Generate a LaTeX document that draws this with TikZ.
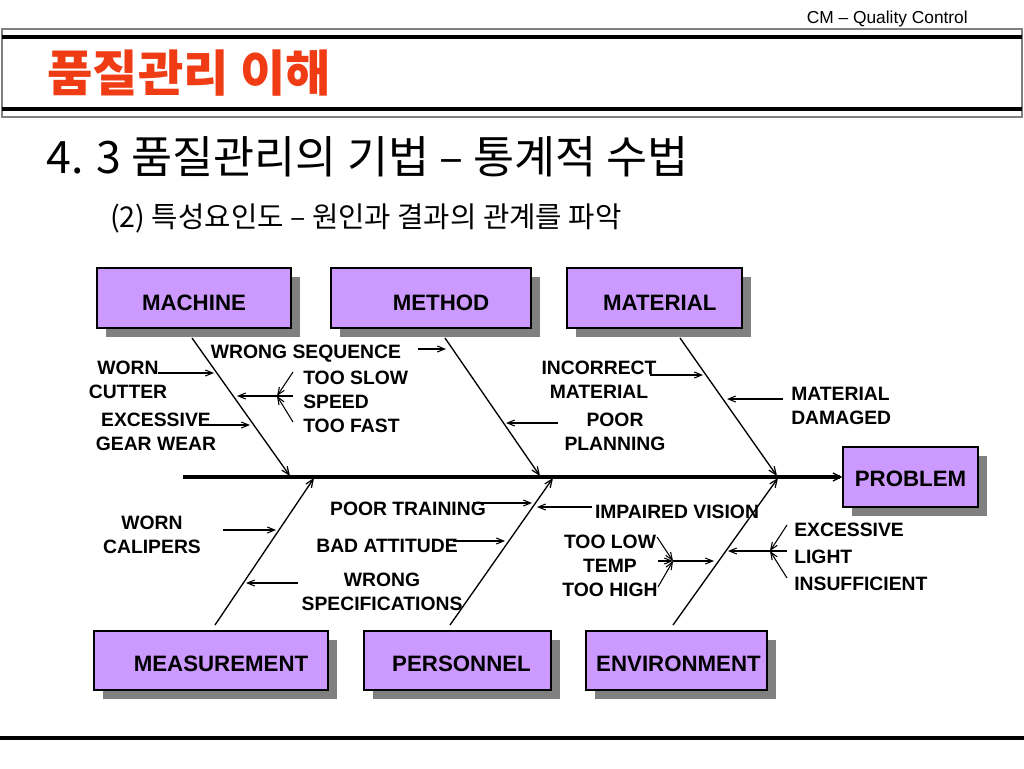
\documentclass[tikz,border=0pt]{standalone}
\usepackage{fontspec}
\setmainfont{Liberation Sans}
\newfontfamily\kr{Noto Sans CJK KR}
\usetikzlibrary{arrows.meta,shadows}
\definecolor{boxfill}{HTML}{CC99FF}
\definecolor{shadowgray}{HTML}{808080}
\definecolor{titlered}{HTML}{F03C14}
\begin{document}
\begin{tikzpicture}[x=0.75pt,y=-0.75pt,
  box/.style={draw=black, line width=0.9pt, fill=boxfill, inner sep=0pt,
    font=\bfseries\fontsize{16.7}{20}\selectfont, text depth=0pt,
    drop shadow={shadow xshift=6.5pt, shadow yshift=-6.5pt, fill=shadowgray, opacity=1}},
  topbox/.style={box, minimum height=45pt, text height=18pt},
  botbox/.style={box, minimum height=44.25pt, text height=16pt},
  lbl/.style={font=\bfseries\fontsize{14.5}{18}\selectfont, inner sep=0pt, align=center},
  lbll/.style={lbl, align=left, anchor=west},
  bone/.style={line width=1pt, -{Straight Barb[length=6pt,width=5pt,line width=0.9pt]}},
  twig/.style={line width=0.8pt, -{Straight Barb[length=5.5pt,width=4.5pt,line width=0.8pt]}},
  spine/.style={line width=2.3pt, -{Straight Barb[length=6pt,width=6pt,line width=1pt]}}
]
\useasboundingbox (0,0) rectangle (1024,768);

% header and frame
\node[anchor=base east, font=\fontsize{13}{15}\selectfont, inner sep=0pt] (hdr) at (968,23) {CM – Quality Control};
\draw[gray, line width=0.8pt] (2,29) rectangle (1022,117);
\draw[line width=2.6pt] (2,37) -- (1022,37);
\draw[line width=2.6pt] (2,109) -- (1022,109);
\draw[line width=2.4pt] (0,738) -- (1024,738);

\node[anchor=west, text=titlered, font=\kr\bfseries\fontsize{37}{42}\selectfont, inner sep=0pt] (title) at (47,73) {품질관리 이해};
\node[anchor=west, font=\kr\fontsize{33.5}{38}\selectfont, inner sep=0pt] (sub) at (46,157) {4. 3 품질관리의 기법 – 통계적 수법};
\node[anchor=west, font=\kr\fontsize{21.5}{25}\selectfont, inner sep=0pt] (sub2) at (110,218) {(2) 특성요인도 – 원인과 결과의 관계를 파악};

% boxes
\node[topbox, minimum width=145.5pt] (machine) at (194,298) {MACHINE};
\node[topbox, minimum width=150pt] (method) at (431,298) {\hspace{15pt}METHOD};
\node[topbox, minimum width=131.25pt] (material) at (654.5,298) {\hspace{8pt}MATERIAL};
\node[box, minimum width=101.25pt, minimum height=45pt, text height=13.5pt] (problem) at (910.5,477) {PROBLEM};
\node[botbox, minimum width=175.5pt] (measurement) at (211,660.5) {\hspace{15pt}MEASUREMENT};
\node[botbox, minimum width=140.25pt] (personnel) at (457.5,660.5) {\hspace{6pt}PERSONNEL};
\node[botbox, minimum width=135.75pt] (environment) at (676.5,660.5) {\hspace{3pt}ENVIRONMENT};

% spine
\coordinate (tail) at (183,477);
\draw[spine] (tail) -- (problem.west);

% bones
\coordinate (mA) at (192,338);  \coordinate (mB) at (290,476);
\coordinate (tA) at (445,338);  \coordinate (tB) at (540,476);
\coordinate (rA) at (680,338);  \coordinate (rB) at (777,476);
\coordinate (sA) at (215,625);  \coordinate (sB) at (314,478);
\coordinate (pA) at (450,625);  \coordinate (pB) at (553,478);
\coordinate (eA) at (673,625);  \coordinate (eB) at (778,478);
\draw[bone] (mA) -- (mB);
\draw[bone] (tA) -- (tB);
\draw[bone] (rA) -- (rB);
\draw[bone] (sA) -- (sB);
\draw[bone] (pA) -- (pB);
\draw[bone] (eA) -- (eB);

% labels
\node[lbl] (wrongseq) at (306,354) {WRONG SEQUENCE};
\node[lbl] (worncutter) at (128,380) {WORN\\CUTTER};
\node[lbll] (speed) at (303,402) {TOO SLOW\\SPEED\\TOO FAST};
\node[lbl] (gearwear) at (156,432) {EXCESSIVE\\GEAR WEAR};
\node[lbl] (incorrect) at (599,380) {INCORRECT\\MATERIAL};
\node[lbl] (planning) at (615,432) {POOR\\PLANNING};
\node[lbll] (damaged) at (791,406) {MATERIAL\\DAMAGED};
\node[lbl] (calipers) at (152,535) {WORN\\CALIPERS};
\node[lbl] (training) at (408,509) {POOR TRAINING};
\node[lbl] (attitude) at (387,546) {BAD ATTITUDE};
\node[lbl] (wrongspec) at (382,592) {WRONG\\SPECIFICATIONS};
\node[lbl] (vision) at (677,512) {IMPAIRED VISION};
\node[lbl] (temp) at (610,566) {TOO LOW\\TEMP\\TOO HIGH};
\node[lbll, font=\bfseries\fontsize{14.5}{20}\selectfont] (light) at (794,557) {EXCESSIVE\\LIGHT\\INSUFFICIENT};

% twig arrows
\coordinate (a1s) at (418,349); \coordinate (a1e) at (446,349);
\draw[twig] (a1s) -- (a1e);
\coordinate (a2s) at (158,373); \coordinate (a2e) at (214,373);
\draw[twig] (a2s) -- (a2e);
\coordinate (a3s) at (293,396); \coordinate (a3e) at (237,396);
\coordinate (a3h) at (277,396);
\coordinate (a3u) at (293,372); \coordinate (a3d) at (293,422);
\draw[line width=0.8pt, -] (a3s) -- (a3h);
\draw[twig] (a3h) -- (a3e);
\draw[twig] (a3u) -- (a3h);
\draw[twig] (a3d) -- (a3h);
\coordinate (a4s) at (200,425); \coordinate (a4e) at (250,425);
\draw[twig] (a4s) -- (a4e);
\coordinate (a5s) at (650,375); \coordinate (a5e) at (703,375);
\draw[twig] (a5s) -- (a5e);
\coordinate (a6s) at (558,423); \coordinate (a6e) at (506,423);
\draw[twig] (a6s) -- (a6e);
\coordinate (a7s) at (783,399); \coordinate (a7e) at (727,399);
\draw[twig] (a7s) -- (a7e);
\coordinate (a8s) at (223,530); \coordinate (a8e) at (276,530);
\draw[twig] (a8s) -- (a8e);
\coordinate (a9s) at (473,503); \coordinate (a9e) at (532,503);
\draw[twig] (a9s) -- (a9e);
\coordinate (a10s) at (453,541); \coordinate (a10e) at (505,541);
\draw[twig] (a10s) -- (a10e);
\coordinate (a11s) at (298,583); \coordinate (a11e) at (246,583);
\draw[twig] (a11s) -- (a11e);
\coordinate (a12s) at (592,507); \coordinate (a12e) at (537,507);
\draw[twig] (a12s) -- (a12e);
\coordinate (a13s) at (658,561); \coordinate (a13h) at (673,561); \coordinate (a13e) at (714,561);
\coordinate (a13u) at (657,537); \coordinate (a13d) at (658,587);
\draw[twig] (a13s) -- (a13h);
\draw[twig] (a13h) -- (a13e);
\draw[twig] (a13u) -- (a13h);
\draw[twig] (a13d) -- (a13h);
\coordinate (a14s) at (787,551); \coordinate (a14h) at (770,551); \coordinate (a14e) at (728,551);
\coordinate (a14u) at (787,525); \coordinate (a14d) at (787,578);
\draw[line width=0.8pt] (a14s) -- (a14h);
\draw[twig] (a14h) -- (a14e);
\draw[twig] (a14u) -- (a14h);
\draw[twig] (a14d) -- (a14h);
\end{tikzpicture}
\end{document}
